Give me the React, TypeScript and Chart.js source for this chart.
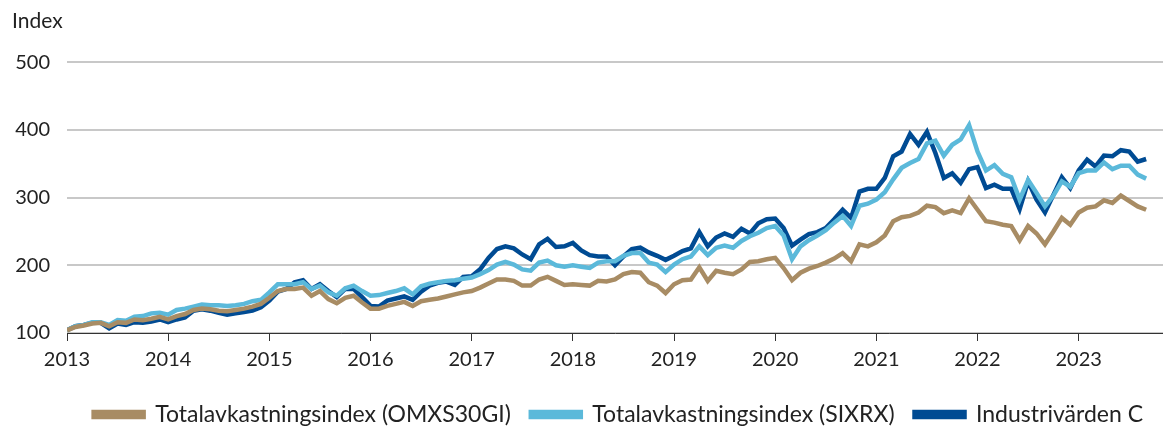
import React, { useEffect, useRef } from "react";
import { Chart, registerables } from "chart.js";

Chart.register(...registerables);

// Monthly observations, Jan 2013 (index 0) to Sep 2023 (index 128)
const omxs30gi: number[] = [
  104, 109, 111, 114, 115, 110, 116, 115, 120, 119, 121, 124, 120, 125, 128, 134, 136, 135, 133, 132,
  134, 136, 139, 143, 152, 162, 165, 165, 167, 155, 162, 150, 144, 152, 155, 145, 136, 136, 140, 143,
  146, 140, 147, 149, 151, 154, 157, 160, 162, 167, 173, 179, 179, 177, 170, 170, 179, 183, 177, 171,
  172, 171, 170, 177, 176, 179, 187, 190, 189, 175, 170, 159, 172, 178, 179, 197, 177, 192, 189, 187,
  194, 205, 206, 209, 211, 196, 178, 189, 195, 199, 204, 210, 218, 206, 231, 228, 234, 244, 265, 271,
  273, 278, 288, 286, 277, 281, 277, 299, 282, 265, 263, 260, 258, 237, 258, 247, 231, 250, 270, 260,
  278, 285, 287, 296, 292, 303, 295, 287, 282,
];

const sixrx: number[] = [
  104, 110, 112, 116, 116, 112, 119, 118, 124, 125, 129, 130, 127, 134, 136, 139, 142, 141, 141, 140,
  141, 143, 147, 149, 160, 172, 172, 172, 175, 165, 170, 160, 155, 166, 170, 162, 155, 156, 159, 162,
  166, 157, 169, 173, 175, 177, 178, 180, 182, 187, 193, 201, 205, 201, 194, 192, 204, 207, 200, 198,
  200, 198, 196, 204, 206, 206, 214, 218, 218, 204, 201, 190, 201, 209, 213, 228, 215, 226, 229, 226,
  236, 243, 248, 255, 258, 244, 209, 228, 237, 244, 252, 263, 273, 258, 288, 291, 297, 308, 327, 344,
  351, 357, 380, 384, 362, 378, 386, 407, 368, 340, 348, 335, 330, 297, 326, 307, 287, 303, 324, 316,
  336, 340, 340, 352, 342, 347, 347, 334, 328,
];

const industrivarden: number[] = [
  104, 110, 112, 115, 115, 107, 114, 112, 116, 115, 117, 120, 116, 120, 123, 133, 135, 133, 130, 127,
  129, 131, 133, 138, 148, 161, 165, 175, 178, 165, 172, 162, 153, 165, 165, 153, 140, 139, 148, 151,
  154, 149, 161, 170, 174, 176, 171, 183, 184, 194, 211, 224, 228, 225, 216, 209, 231, 239, 227, 228,
  233, 222, 215, 213, 213, 200, 213, 224, 226, 219, 214, 208, 214, 221, 225, 249, 228, 241, 247, 242,
  254, 247, 262, 268, 269, 255, 229, 238, 246, 249, 255, 268, 282, 270, 309, 313, 313, 329, 361, 368,
  394, 378, 397, 366, 329, 336, 322, 342, 345, 314, 319, 313, 313, 283, 324, 297, 278, 304, 330, 314,
  340, 356, 346, 362, 361, 370, 368, 353, 357,
];

const seriesLabels: string[] = [
  "Totalavkastningsindex (OMXS30GI)",
  "Totalavkastningsindex (SIXRX)",
  "Industrivärden C",
];
const firstYear = 2013;
const yTicks: number[] = [100, 200, 300, 400, 500];

const FONT = "Lato, 'Open Sans', sans-serif";

export default function App() {
  const ref = useRef<HTMLCanvasElement | null>(null);

  useEffect(() => {
    document.body.style.margin = "0";
    const canvas = ref.current;
    if (!canvas) return;
    const toPts = (arr: number[]) => arr.map((v, i) => ({ x: i, y: v }));
    const chart = new Chart(canvas, {
      type: "line",
      data: {
        datasets: [
          {
            label: seriesLabels[0],
            data: toPts(omxs30gi),
            borderColor: "#A88C64",
            backgroundColor: "#A88C64",
            borderWidth: 4.5,
            pointRadius: 0,
            tension: 0,
          },
          {
            label: seriesLabels[1],
            data: toPts(sixrx),
            borderColor: "#5BB9DA",
            backgroundColor: "#5BB9DA",
            borderWidth: 4.5,
            pointRadius: 0,
            tension: 0,
          },
          {
            label: seriesLabels[2],
            data: toPts(industrivarden),
            borderColor: "#004B93",
            backgroundColor: "#004B93",
            borderWidth: 4.5,
            pointRadius: 0,
            tension: 0,
          },
        ],
      },
      options: {
        animation: false,
        responsive: false,
        maintainAspectRatio: false,
        layout: { padding: { left: 12, right: 0, top: 0, bottom: -8 } },
        plugins: {
          title: {
            display: true,
            text: "Index",
            align: "start",
            color: "#222",
            font: { family: FONT, size: 21, weight: "normal" },
            padding: { top: 9, bottom: 28 },
          },
          legend: {
            position: "bottom",
            align: "end",
            labels: {
              boxWidth: 50,
              boxHeight: 5,
              color: "#222",
              font: { family: FONT, size: 23 },
              padding: 20,
            },
          },
          tooltip: { enabled: false },
        },
        scales: {
          x: {
            type: "linear",
            min: 0,
            max: 130,
            afterFit: (s: any) => {
              s.height = 50;
            },
            border: { display: true, color: "#333", width: 1 },
            grid: {
              display: true,
              drawOnChartArea: false,
              drawTicks: true,
              tickLength: 8,
              color: "#333",
            },
            ticks: {
              stepSize: 12,
              includeBounds: false,
              autoSkip: false,
              maxRotation: 0,
              color: "#222",
              padding: 7,
              font: { family: FONT, size: 20 },
              callback: (v: any) => (Number(v) % 12 === 0 ? String(firstYear + Number(v) / 12) : ""),
            },
          },
          y: {
            type: "linear",
            min: 100,
            max: 500,
            afterFit: (s: any) => {
              s.width = 55;
            },
            afterBuildTicks: (s: any) => {
              s.ticks = yTicks.map((v) => ({ value: v }));
            },
            border: { display: false },
            grid: { color: "#c8c8c8", lineWidth: 2, drawTicks: false },
            ticks: {
              color: "#222",
              padding: 17,
              font: { family: FONT, size: 20 },
            },
          },
        },
      },
    });
    return () => chart.destroy();
  }, []);

  return (
    <div style={{ width: 1163, height: 428 }}>
      <canvas ref={ref} width={1163} height={428} style={{ display: "block" }} />
    </div>
  );
}
